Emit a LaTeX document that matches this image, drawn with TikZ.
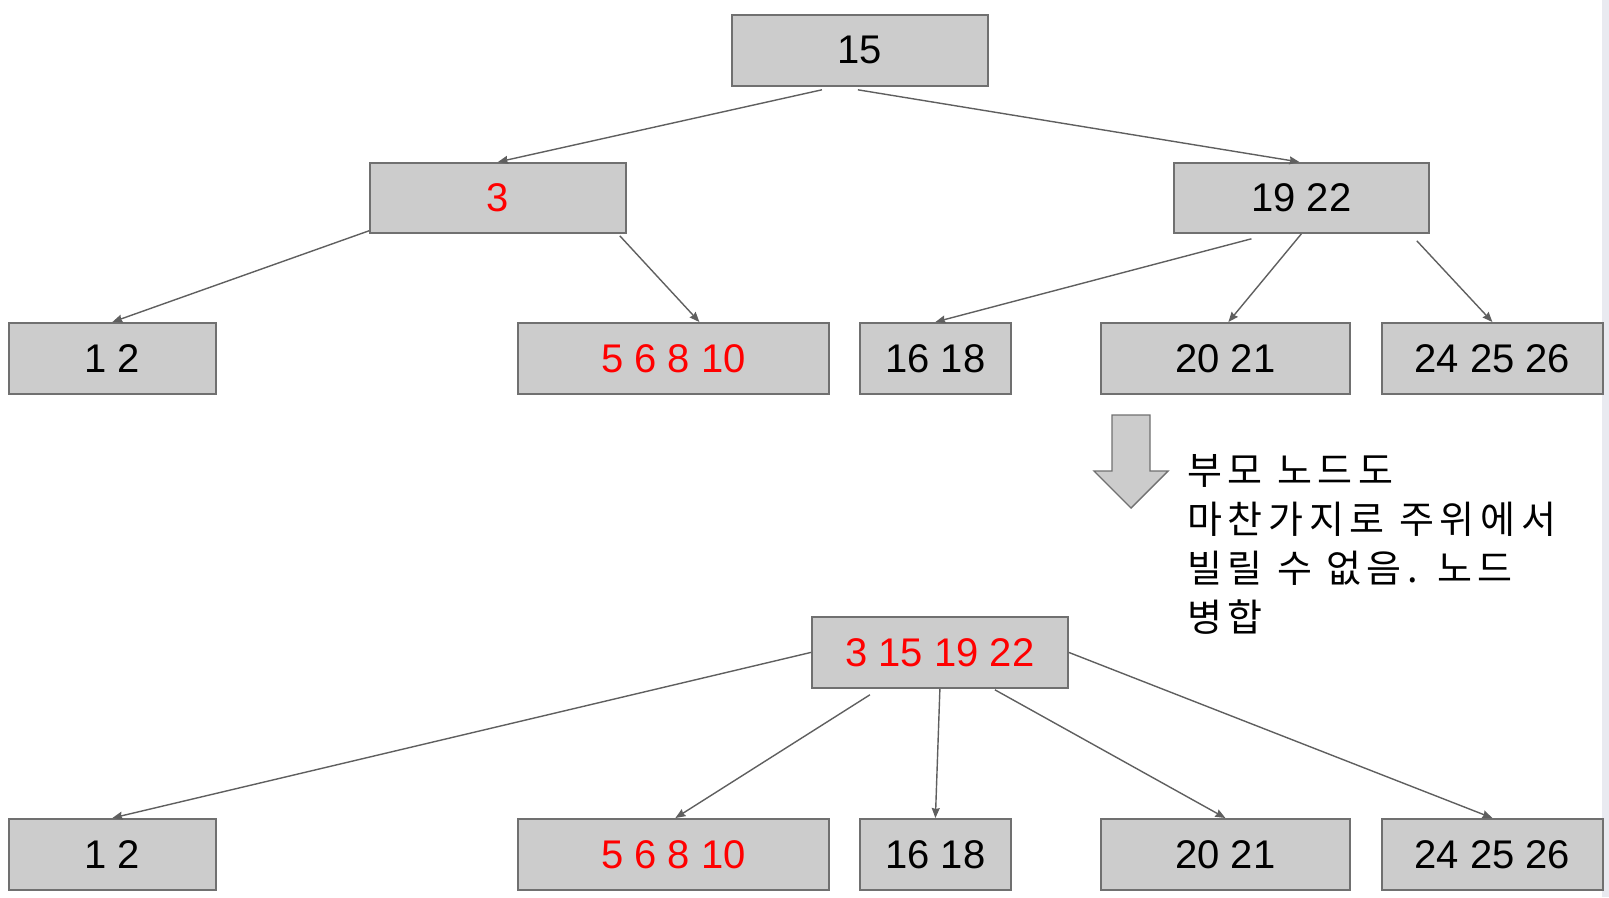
\documentclass[tikz,border=0pt]{standalone}
\usepackage{fontspec}
\setmainfont{Liberation Sans}
\newfontfamily\kofont[LetterSpace=15]{Noto Sans CJK KR}
\usetikzlibrary{arrows.meta,calc}
\definecolor{ink}{RGB}{0,0,0}
\definecolor{boxfill}{RGB}{204,204,204}
\definecolor{boxline}{RGB}{112,112,112}
\definecolor{edge}{RGB}{95,95,95}
\definecolor{hot}{RGB}{255,0,0}
\definecolor{rim}{RGB}{233,234,240}
\tikzset{
  every picture/.style={x=1pt, y=-1pt, color=ink},
  box/.style={draw=boxline, fill=boxfill, line width=1.8pt, inner sep=0pt, minimum height=71pt, anchor=north west, font=\fontsize{40}{48}\selectfont},
  changed/.style={box, text=hot},
  link/.style={draw=edge, line width=1.4pt, -{Stealth[length=10pt,width=8pt,inset=1pt]}},
  down/.style={draw=boxline, fill=boxfill, line width=1.4pt},
  note/.style={anchor=north west, inner sep=0pt, align=left, font=\kofont\fontsize{38}{49}\selectfont},
}

\begin{document}
\begin{tikzpicture}
  \useasboundingbox (0,0) rectangle (1609,897);
  \fill[rim] (1602,0) rectangle (1609,897);

  \node[box, minimum width=256pt] (n15) at (731,14) {15};
  \node[changed, minimum width=256pt, minimum height=70pt] (n3) at (369,162) {3};
  \node[box, minimum width=255pt, minimum height=70pt] (n1922) at (1173,162) {19 22};

  \node[box, minimum width=207pt] (l12) at (8,322) {1 2};
  \node[changed, minimum width=311pt] (l5) at (517,322) {5 6 8 10};
  \node[box, minimum width=151pt] (l16) at (859,322) {16 18};
  \node[box, minimum width=249pt] (l20) at (1100,322) {20 21};
  \node[box, minimum width=221pt] (l24) at (1381,322) {24 25 26};

  \draw[link] ([xshift=-38pt,yshift=-3pt]n15.south) -- (n3.north);
  \draw[link] ([xshift=-2pt,yshift=-3pt]n15.south) -- ([xshift=-2pt]n1922.north);
  \draw[link] ([yshift=3pt]n3.south west) -- (l12.north);
  \draw[link] ([xshift=-7pt,yshift=-2pt]n3.south east) -- ([xshift=26pt]l5.north);
  \draw[link] ([xshift=-50pt,yshift=-5pt]n1922.south) -- (l16.north);
  \draw[link] (n1922.south) -- ([xshift=3pt]l20.north);
  \draw[link] ([xshift=-13pt,yshift=-7pt]n1922.south east) -- (l24.north);

  \draw[down] (1112,415) -- (1150,415) -- (1150,471) -- (1168,471) -- (1131,508) -- (1094,471) -- (1112,471) -- cycle;
  \node[note] (msg) at (1187,454) {부모 노드도\\마찬가지로 주위에서\\빌릴 수 없음. 노드\\병합};

  \node[changed, minimum width=256pt] (merged) at (811,616) {3 15 19 22};

  \node[box, minimum width=207pt] (b12) at (8,818) {1 2};
  \node[changed, minimum width=311pt] (b5) at (517,818) {5 6 8 10};
  \node[box, minimum width=151pt] (b16) at (859,818) {16 18};
  \node[box, minimum width=249pt] (b20) at (1100,818) {20 21};
  \node[box, minimum width=221pt] (b24) at (1381,818) {24 25 26};

  \draw[link] (merged.west) -- (b12.north);
  \draw[link] ([xshift=-70pt,yshift=-6pt]merged.south) -- ([xshift=2pt]b5.north);
  \draw[link] (merged.south) -- (b16.north);
  \draw[link] ([xshift=55pt,yshift=-1pt]merged.south) -- (b20.north);
  \draw[link] (merged.east) -- (b24.north);
\end{tikzpicture}
\end{document}
